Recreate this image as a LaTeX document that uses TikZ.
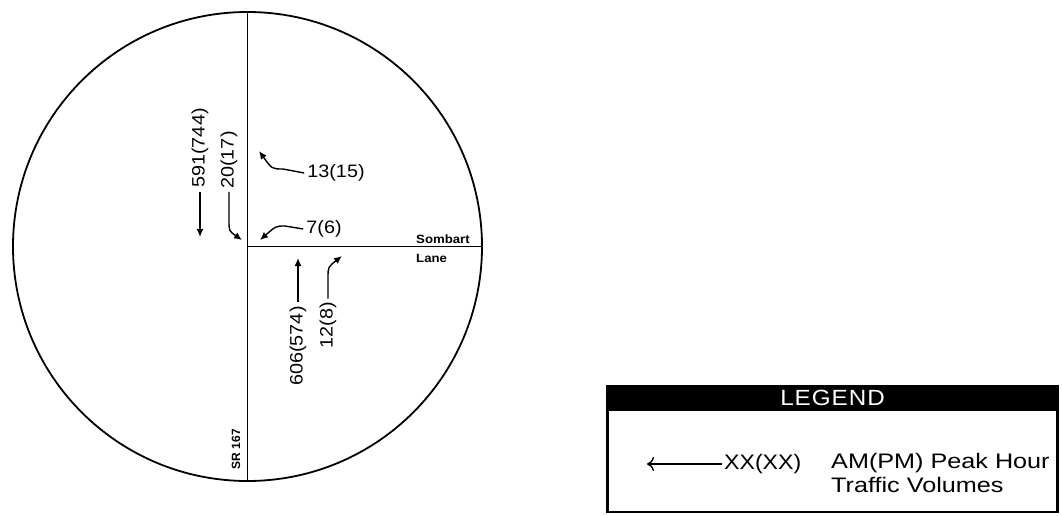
\documentclass[tikz,border=0pt]{standalone}
\usepackage{fontspec}
\setmainfont{Liberation Sans}
\newfontfamily\widefont[FakeStretch=1.1]{Liberation Sans}
\newfontfamily\widerfont[FakeStretch=1.2]{Liberation Sans}
\usetikzlibrary{arrows.meta}
\begin{document}
\begin{tikzpicture}[x=1pt,y=1pt,
  road/.style={line width=1.8pt},
  vol/.style={font=\widefont\fontsize{18}{20}\selectfont, inner sep=0pt},
  volv/.style={vol, rotate=90},
  arr/.style={line width=1.4pt, -{Latex[length=8pt,width=7pt]}},
  small/.style={font=\widefont\bfseries\fontsize{12}{14}\selectfont, inner sep=0pt, anchor=west},
  legtxt/.style={font=\widefont\fontsize{21}{24}\selectfont, inner sep=0pt, anchor=west}]
\useasboundingbox (0,0) rectangle (1062,-515);
% intersection
\node[draw, line width=1.8pt, circle, minimum size=469pt, inner sep=0pt] (c) at (247.5,-246.5) {};
\draw[road] (c.north) -- (c.south);
\draw[road] (c.center) -- (c.east);
\node[small] (sombart) at (416,-239) {Sombart};
\node[small] (lane) at (416,-258) {Lane};
\node[font=\bfseries\fontsize{12}{14}\selectfont, inner sep=0pt, rotate=90] (sr) at (236,-449) {SR 167};
% southbound
\node[volv] (n591) at (200,-148) {591(744)};
\draw[arr] ([yshift=-4pt]n591.west) -- (200,-237);
\node[volv] (n20) at (229,-160) {20(17)};
\coordinate (h20) at (242,-240);
\draw[arr] ([yshift=-3pt]n20.west) -- (229,-220) .. controls (229,-231) .. (h20);
% northbound
\node[volv] (n606) at (298,-346) {606(574)};
\draw[arr] ([yshift=4pt]n606.east) -- (298,-258);
\node[volv] (n12) at (328,-325) {12(8)};
\coordinate (h12) at (342,-256);
\draw[arr] ([yshift=3pt]n12.east) -- (328,-278) .. controls (328,-267) .. (h12);
% westbound
\node[vol] (n13) at (336,-173) {13(15)};
\coordinate (h13) at (259,-151);
\draw[arr] ([xshift=-3pt]n13.west) -- (283,-169) .. controls (272,-169) .. (h13);
\node[vol] (n7) at (324,-229) {7(6)};
\coordinate (h7) at (260,-240);
\draw[arr] ([xshift=-3pt]n7.west) -- (285,-226) .. controls (276,-226) .. (h7);
% legend
\node[draw, line width=2.5pt, minimum width=450pt, minimum height=126pt, inner sep=0pt] (legbox) at (832.5,-449) {};
\node[fill=black, minimum width=450pt, minimum height=26pt, inner sep=0pt, anchor=north, text=white, font=\widefont\fontsize{22}{24}\selectfont] (leghead) at (legbox.north) {L\kern1pt E\kern1pt G\kern1pt E\kern1pt N\kern1pt D};
\node[legtxt] (xx) at (724,-464) {XX(XX)};
\coordinate (legtip) at (647,-464);
\draw[line width=1.4pt, -{To[length=7pt,width=14pt]}] ([xshift=-2pt]xx.west) -- (legtip);
\node[legtxt, align=left, font=\widerfont\fontsize{21}{24}\selectfont, anchor=north west] (legdesc) at (831,-453) {AM(PM) Peak Hour\\Traffic Volumes};
\end{tikzpicture}
\end{document}
